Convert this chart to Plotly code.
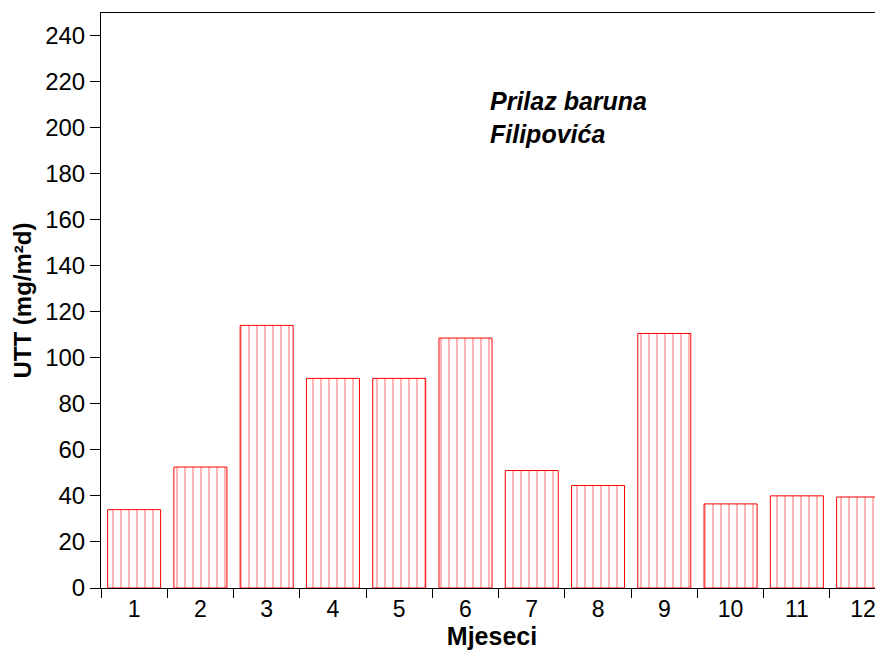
import plotly.graph_objects as go

# Mjesečne vrijednosti UTT
mjeseci = ["1", "2", "3", "4", "5", "6", "7", "8", "9", "10", "11", "12"]
utt = [34, 52.5, 114, 91, 91, 108.5, 51, 44.5, 110.5, 36.5, 40, 39.5]

fig = go.Figure()
fig.add_trace(go.Bar(
    x=mjeseci, y=utt, width=0.8,
    marker=dict(color="white",
                line=dict(color="#ff0000", width=1),
                pattern=dict(shape="|", size=8, solidity=0.18,
                             fgcolor="#ff3030", bgcolor="white")),
))

fig.add_annotation(x=0.495, y=0.875, xref="paper", yref="paper",
                   text="<b><i>Prilaz baruna<br>Filipovića</i></b>",
                   showarrow=False, align="left", xanchor="left", yanchor="top",
                   font=dict(size=25, color="black"))

fig.update_layout(
    width=875, height=646,
    margin=dict(l=93, r=0, t=5, b=66),
    plot_bgcolor="white", paper_bgcolor="white",
    font=dict(family="Liberation Sans, Arial", color="black"),
    showlegend=False, bargap=0.2,
)
fig.update_xaxes(type="category", range=[-0.5, 11.3], tickson="boundaries",
                 ticks="outside", ticklen=9, tickcolor="black",
                 showline=True, linecolor="black", linewidth=1, mirror=True,
                 showgrid=False, tickfont=dict(size=23),
                 title=dict(text="<b>Mjeseci</b>", font=dict(size=25), standoff=0))
fig.update_yaxes(range=[0, 249.6], tickvals=list(range(0, 241, 20)),
                 ticks="outside", ticklen=10, tickcolor="black",
                 showline=True, linecolor="black", linewidth=1,
                 showgrid=False, zeroline=False, tickfont=dict(size=24),
                 title=dict(text="<b>UTT (mg/m²d)</b>", font=dict(size=24), standoff=6))

fig.write_html("out.html")
